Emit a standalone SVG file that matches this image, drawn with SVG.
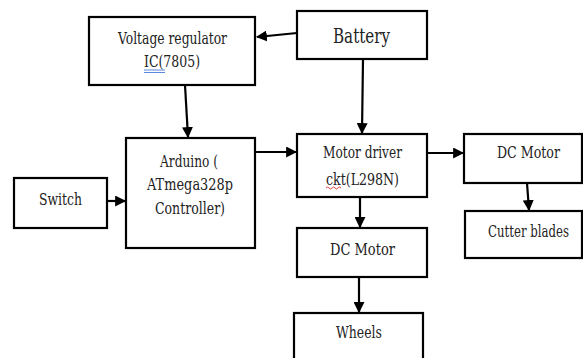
<svg xmlns="http://www.w3.org/2000/svg" width="583" height="358" viewBox="0 0 583 358">
<style>
.box{fill:#fff;stroke:#000;stroke-width:2.2}
text{font-family:'DejaVu Serif','Liberation Serif','Times New Roman',serif;font-size:16px;fill:#222}
.big{font-size:20px}
.c{stroke:#000;stroke-width:2.2;fill:none}
</style>
<defs>
<marker id="ah" viewBox="0 0 10 10" refX="9" refY="5" markerWidth="5" markerHeight="5" markerUnits="strokeWidth" orient="auto">
<path d="M0,0 L10,5 L0,10 z" fill="#000"/>
</marker>
</defs>
<rect width="583" height="358" fill="#fff"/>
<g id="connectors">
<line class="c" x1="297" y1="33" x2="257" y2="37" marker-end="url(#ah)"/>
<line class="c" x1="185" y1="85" x2="188" y2="137" marker-end="url(#ah)"/>
<line class="c" x1="363" y1="59" x2="362" y2="133" marker-end="url(#ah)"/>
<line class="c" x1="107" y1="201" x2="125" y2="201" marker-end="url(#ah)"/>
<line class="c" x1="255" y1="152" x2="296" y2="152" marker-end="url(#ah)"/>
<line class="c" x1="427" y1="153" x2="463" y2="153" marker-end="url(#ah)"/>
<line class="c" x1="360" y1="197" x2="360" y2="227" marker-end="url(#ah)"/>
<line class="c" x1="527" y1="183" x2="529" y2="210" marker-end="url(#ah)"/>
<line class="c" x1="359" y1="277" x2="359" y2="312" marker-end="url(#ah)"/>
</g>
<g id="voltage-regulator">
<rect class="box" x="89" y="17" width="166" height="68"/>
<text x="118" y="44" textLength="109" lengthAdjust="spacingAndGlyphs">Voltage regulator</text>
<text x="144" y="67" textLength="56" lengthAdjust="spacingAndGlyphs">IC(7805)</text>
<path d="M144,70 H165 M144,72.5 H165" stroke="#4a7bd8" stroke-width="0.9" fill="none"/>
</g>
<g id="battery">
<rect class="box" x="297" y="11" width="130" height="48"/>
<text class="big" x="333" y="43" textLength="57" lengthAdjust="spacingAndGlyphs">Battery</text>
</g>
<g id="switch">
<rect class="box" x="14" y="178" width="93" height="50"/>
<text x="39" y="205" textLength="43" lengthAdjust="spacingAndGlyphs">Switch</text>
</g>
<g id="arduino">
<rect class="box" x="126" y="138" width="129" height="110"/>
<text x="160" y="167" textLength="58" lengthAdjust="spacingAndGlyphs">Arduino (</text>
<text x="147" y="190" textLength="86" lengthAdjust="spacingAndGlyphs">ATmega328p</text>
<text x="155" y="214" textLength="70" lengthAdjust="spacingAndGlyphs">Controller)</text>
</g>
<g id="motor-driver">
<rect class="box" x="297" y="134" width="130" height="63"/>
<text x="323" y="158" textLength="79" lengthAdjust="spacingAndGlyphs">Motor driver</text>
<text x="326" y="185" textLength="73" lengthAdjust="spacingAndGlyphs">ckt(L298N)</text>
<path d="M326,188 q1.5,-2 3,0 t3,0 t3,0 t3,0 t3,0" stroke="#e03030" stroke-width="0.9" fill="none"/>
</g>
<g id="dc-motor-right">
<rect class="box" x="464" y="134" width="118" height="49"/>
<text x="497" y="158" textLength="63" lengthAdjust="spacingAndGlyphs">DC Motor</text>
</g>
<g id="cutter-blades">
<rect class="box" x="465" y="211" width="117" height="47"/>
<text transform="translate(488,237) scale(0.7,1)" x="0" y="0" textLength="115.7" lengthAdjust="spacingAndGlyphs">Cutter blades</text>
</g>
<g id="dc-motor-lower">
<rect class="box" x="297" y="228" width="130" height="49"/>
<text x="330" y="255" textLength="65" lengthAdjust="spacingAndGlyphs">DC Motor</text>
</g>
<g id="wheels">
<rect class="box" x="294" y="313" width="129" height="50"/>
<text x="336" y="338" textLength="46" lengthAdjust="spacingAndGlyphs">Wheels</text>
</g>
</svg>
